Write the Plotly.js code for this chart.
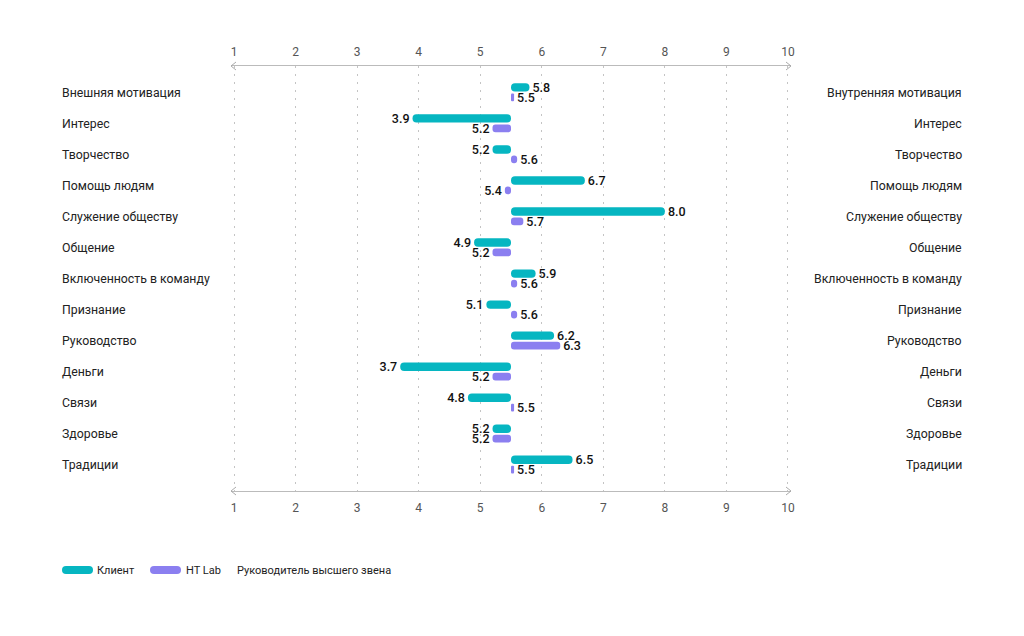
<!DOCTYPE html>
<html><head><meta charset="utf-8">
<script src="https://cdn.plot.ly/plotly-3.0.1.min.js"></script>
<style>html,body{margin:0;padding:0;background:#fff}#chart{width:1024px;height:636px}</style>
</head><body><div id="chart"></div>
<script>
const categories = ["Внешняя мотивация","Интерес","Творчество","Помощь людям","Служение обществу","Общение","Включенность в команду","Признание","Руководство","Деньги","Связи","Здоровье","Традиции"];
const rightLabels = ["Внутренняя мотивация","Интерес","Творчество","Помощь людям","Служение обществу","Общение","Включенность в команду","Признание","Руководство","Деньги","Связи","Здоровье","Традиции"];
const clientValues = [5.8,3.9,5.2,6.7,8.0,4.9,5.9,5.1,6.2,3.7,4.8,5.2,6.5];
const htlabValues = [5.5,5.2,5.6,5.4,5.7,5.2,5.6,5.6,6.3,5.2,5.5,5.2,5.5];
const tickValues = [1,2,3,4,5,6,7,8,9,10];
const legendNames = ["Клиент","HT Lab","Руководитель высшего звена"];
const baseline = 5.5;

const TEAL = "#06b6c1", PURPLE = "#8b7ff0";
const FONT = "Roboto, 'Noto Sans', sans-serif";
const rows = categories.map((_, i) => i);
const len = v => { const d = v - baseline; return Math.abs(d) < 0.05 ? 0.05 : d; };

const mkBar = (vals, color, offset, width, xaxis, name) => ({
  type: "bar", orientation: "h", name: name,
  y: rows, x: vals.map(len), base: baseline,
  xaxis: xaxis, yaxis: "y",
  offset: offset, width: width,
  marker: {color: color, cornerradius: 4},
  text: vals.map(v => v.toFixed(1)), textposition: "outside", constraintext: "none",
  outsidetextfont: {family: FONT, size: 12.5, color: "#111", weight: 500},
  cliponaxis: false, showlegend: false, hoverinfo: "skip"
});

const traces = [
  mkBar(clientValues, TEAL, -0.30, 0.27, "x", legendNames[0]),
  mkBar(htlabValues, PURPLE, 0.03, 0.25, "x2", legendNames[1])
];

const L = 231, R = 791, T = 66, B = 491;
const pw = R - L, ph = B - T;
const px = x => (x - L) / pw;
const py = y => (B - y) / ph;

const annotations = [];
categories.forEach((c, i) => {
  annotations.push({xref: "paper", yref: "y", x: px(60), y: i, xanchor: "left", yanchor: "middle", text: c, showarrow: false, font: {family: FONT, size: 12.3, color: "#222"}});
  annotations.push({xref: "paper", yref: "y", x: px(964), y: i, xanchor: "right", yanchor: "middle", text: rightLabels[i], showarrow: false, font: {family: FONT, size: 12.3, color: "#222"}});
});
// manual legend
const legY = py(570);
const legItems = [
  {pill: 62, text: 95, color: TEAL, name: legendNames[0]},
  {pill: 150, text: 184, color: PURPLE, name: legendNames[1]},
  {pill: null, text: 235, color: null, name: legendNames[2]}
];
const shapes = [];
const pillPath = "M4,-4 H27 Q31,-4 31,0 Q31,4 27,4 H4 Q0,4 0,0 Q0,-4 4,-4 Z";
legItems.forEach(it => {
  annotations.push({xref: "paper", yref: "paper", x: px(it.text), y: legY, xanchor: "left", yanchor: "middle", text: it.name, showarrow: false, font: {family: FONT, size: 11, color: "#222"}});
  if (it.pill !== null) shapes.push({type: "path", xref: "paper", yref: "paper", xsizemode: "pixel", ysizemode: "pixel", xanchor: px(it.pill), yanchor: legY, path: pillPath, fillcolor: it.color, line: {width: 0}});
});
// arrowheads on axis lines
const xr = [0.951, 10.049];
[1, 0].forEach(yp => {
  shapes.push({type: "path", xref: "x", yref: "paper", xsizemode: "pixel", ysizemode: "pixel", xanchor: xr[0], yanchor: yp, path: "M5,-4 L0,0 L5,4", line: {color: "#aaa", width: 1}});
  shapes.push({type: "path", xref: "x", yref: "paper", xsizemode: "pixel", ysizemode: "pixel", xanchor: xr[1], yanchor: yp, path: "M-5,-4 L0,0 L-5,4", line: {color: "#aaa", width: 1}});
});

const axisCommon = {
  range: xr, tickvals: tickValues, ticktext: tickValues.map(String), ticks: "",
  tickfont: {family: FONT, size: 12, color: "#555"}, zeroline: false, fixedrange: true
};

const layout = {
  width: 1024, height: 636,
  margin: {l: L, r: 1024 - R, t: T, b: 636 - B},
  paper_bgcolor: "#fff", plot_bgcolor: "#fff",
  barmode: "overlay", showlegend: false,
  font: {family: FONT},
  xaxis: Object.assign({}, axisCommon, {side: "top", showgrid: true, gridcolor: "#c4c4c4", griddash: "2px,6px", gridwidth: 1, showline: true, linecolor: "#bbb", linewidth: 1, mirror: true, ticklabelstandoff: 4}),
  xaxis2: Object.assign({}, axisCommon, {side: "bottom", overlaying: "x", matches: "x", anchor: "y", showgrid: false, showline: false, ticklabelstandoff: 8}),
  yaxis: {range: [12.84, -0.854], showticklabels: false, showgrid: false, zeroline: false, ticks: "", fixedrange: true},
  annotations: annotations, shapes: shapes
};

Plotly.newPlot("chart", traces, layout, {displayModeBar: false, staticPlot: true});
</script></body></html>
